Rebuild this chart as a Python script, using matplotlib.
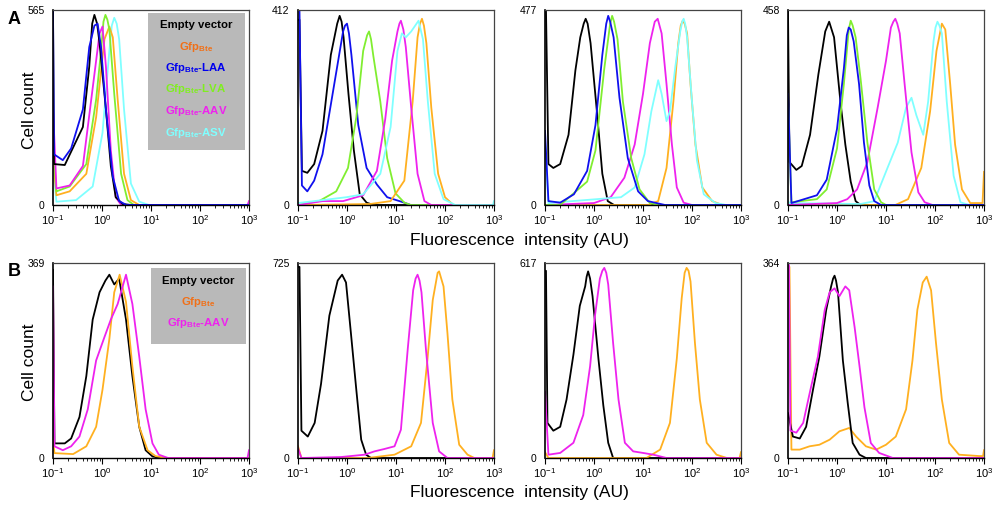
import numpy as np
import matplotlib
matplotlib.use("Agg")
import matplotlib.pyplot as plt

plt.rcParams['font.family'] = ['Liberation Sans', 'DejaVu Sans']
plt.rcParams['mathtext.fontset'] = 'custom'
plt.rcParams['mathtext.rm'] = 'Liberation Sans'
plt.rcParams['mathtext.bf'] = 'Liberation Sans:bold'

# curves: (log10 fluorescence, cell count as fraction of panel max)
# row A, panel 1  (max 565)
a1_black = ([-1, -0.98, -0.76, -0.39, -0.26, -0.2, -0.155, -0.1, -0.05, 0.08, 0.18, 0.28, 0.42, 0.6, 3],
            [1.0, 0.21, 0.205, 0.40, 0.71, 0.93, 0.975, 0.93, 0.83, 0.49, 0.20, 0.04, 0.005, 0, 0])
a1_blue = ([-1, -0.98, -0.8, -0.63, -0.39, -0.26, -0.155, -0.09, -0.02, 0.08, 0.22, 0.35, 0.5, 3],
           [1.0, 0.26, 0.23, 0.29, 0.49, 0.81, 0.92, 0.93, 0.81, 0.49, 0.145, 0.02, 0, 0])
a1_green = ([-1, -0.93, -0.66, -0.32, -0.12, -0.02, 0.03, 0.07, 0.11, 0.15, 0.25, 0.39, 0.52, 0.65, 3],
            [0.30, 0.07, 0.095, 0.21, 0.54, 0.79, 0.94, 0.975, 0.95, 0.90, 0.57, 0.16, 0.025, 0, 0])
a1_orange = ([-1, -0.93, -0.66, -0.32, -0.12, 0.05, 0.15, 0.22, 0.32, 0.45, 0.59, 0.76, 3],
             [0.25, 0.05, 0.07, 0.16, 0.45, 0.85, 0.915, 0.86, 0.54, 0.16, 0.025, 0, 0])
a1_magenta = ([-1, -0.93, -0.66, -0.39, -0.22, -0.05, 0.01, 0.08, 0.18, 0.28, 0.39, 2.97, 3],
              [0.50, 0.085, 0.10, 0.20, 0.54, 0.88, 0.915, 0.71, 0.28, 0.04, 0, 0, 0.02])
a1_cyan = ([-1, -0.93, -0.53, -0.19, 0.01, 0.15, 0.2, 0.25, 0.3, 0.35, 0.45, 0.59, 0.76, 0.96, 3],
           [0.20, 0.017, 0.025, 0.095, 0.37, 0.79, 0.92, 0.96, 0.93, 0.85, 0.49, 0.11, 0.017, 0, 0])

# row A, panel 2  (max 412)
a2_black = ([-1, -0.97, -0.92, -0.81, -0.67, -0.5, -0.33, -0.2, -0.15, -0.11, -0.07, 0.03, 0.14, 0.26, 0.4, 0.54, 3],
            [0.95, 0.95, 0.175, 0.165, 0.21, 0.38, 0.77, 0.93, 0.97, 0.94, 0.86, 0.57, 0.28, 0.055, 0.012, 0, 0])
a2_blue = ([-1, -0.97, -0.92, -0.81, -0.67, -0.5, -0.26, -0.08, -0.04, 0.0, 0.04, 0.09, 0.23, 0.4, 0.61, 0.82, 1.17, 1.3, 3],
           [1.0, 1.0, 0.10, 0.07, 0.125, 0.26, 0.62, 0.89, 0.92, 0.93, 0.88, 0.77, 0.41, 0.19, 0.105, 0.04, 0.012, 0, 0])
a2_green = ([-1, -0.57, -0.22, 0.02, 0.19, 0.33, 0.41, 0.45, 0.49, 0.54, 0.68, 0.82, 0.99, 1.17, 1.3, 3],
            [0, 0.02, 0.07, 0.19, 0.45, 0.79, 0.87, 0.89, 0.85, 0.76, 0.53, 0.24, 0.06, 0.012, 0, 0])
a2_magenta = ([-1, -0.5, -0.08, 0.33, 0.61, 0.78, 0.92, 1.03, 1.07, 1.1, 1.15, 1.2, 1.31, 1.44, 1.58, 1.72, 3],
              [0, 0.02, 0.02, 0.05, 0.175, 0.44, 0.74, 0.89, 0.93, 0.945, 0.90, 0.81, 0.50, 0.16, 0.02, 0, 0])
a2_orange = ([-1, 0.47, 0.89, 1.17, 1.34, 1.44, 1.49, 1.53, 1.57, 1.62, 1.72, 1.86, 2.0, 2.17, 3],
             [0, 0.005, 0.02, 0.125, 0.53, 0.86, 0.93, 0.955, 0.92, 0.83, 0.50, 0.16, 0.04, 0, 0])
a2_cyan = ([-1, -0.01, 0.33, 0.68, 0.89, 1.03, 1.12, 1.2, 1.31, 1.46, 1.55, 1.65, 1.79, 1.97, 2.21, 2.98, 3],
           [0.01, 0.04, 0.055, 0.16, 0.40, 0.79, 0.88, 0.86, 0.89, 0.945, 0.85, 0.53, 0.16, 0.03, 0, 0, 0.02])

# row A, panel 3  (max 477)
a3_black = ([-1, -0.98, -0.93, -0.83, -0.69, -0.52, -0.38, -0.28, -0.21, -0.17, -0.13, -0.07, 0.07, 0.17, 0.28, 0.41, 3],
            [1.0, 1.0, 0.21, 0.19, 0.21, 0.36, 0.69, 0.86, 0.93, 0.955, 0.93, 0.83, 0.45, 0.16, 0.02, 0, 0])
a3_blue = ([-1, -0.93, -0.69, -0.41, -0.14, 0.03, 0.17, 0.25, 0.29, 0.33, 0.4, 0.52, 0.69, 0.9, 1.1, 1.45, 3],
           [0.38, 0.02, 0.012, 0.055, 0.175, 0.41, 0.77, 0.93, 0.97, 0.94, 0.86, 0.55, 0.24, 0.07, 0.02, 0, 0])
a3_green = ([-1, -0.69, -0.14, 0.03, 0.21, 0.33, 0.37, 0.41, 0.48, 0.59, 0.76, 0.93, 1.14, 1.3, 3],
            [0, 0, 0.12, 0.28, 0.70, 0.93, 0.97, 0.94, 0.85, 0.53, 0.24, 0.08, 0.01, 0, 0])
a3_magenta = ([-1, 0.0, 0.34, 0.62, 0.83, 1.0, 1.14, 1.24, 1.3, 1.38, 1.48, 1.59, 1.69, 1.83, 2.0, 3],
              [0, 0.01, 0.04, 0.14, 0.31, 0.57, 0.83, 0.94, 0.955, 0.88, 0.62, 0.31, 0.09, 0.012, 0, 0])
a3_orange = ([-1, 1.1, 1.31, 1.48, 1.62, 1.72, 1.77, 1.81, 1.85, 1.9, 1.97, 2.07, 2.21, 2.41, 2.62, 3],
             [0, 0, 0.02, 0.19, 0.53, 0.83, 0.92, 0.945, 0.93, 0.88, 0.62, 0.31, 0.09, 0.02, 0, 0])
a3_cyan = ([-1, -0.93, 0.55, 0.83, 1.03, 1.17, 1.31, 1.38, 1.48, 1.55, 1.66, 1.76, 1.8, 1.83, 1.86, 1.9, 2.0, 2.1,
            2.24, 2.48, 2.7, 3],
           [0.33, 0.01, 0.04, 0.09, 0.26, 0.48, 0.64, 0.57, 0.43, 0.48, 0.71, 0.89, 0.94, 0.955, 0.93, 0.86, 0.53, 0.23,
            0.055, 0.01, 0, 0])

# row A, panel 4  (max 458)
a4_black = ([-1, -0.97, -0.83, -0.72, -0.55, -0.38, -0.24, -0.16, -0.06, 0.07, 0.17, 0.28, 0.38, 0.48, 3],
            [1.0, 0.22, 0.18, 0.20, 0.36, 0.67, 0.89, 0.94, 0.86, 0.53, 0.31, 0.12, 0.02, 0, 0])
a4_blue = ([-1, -0.93, -0.41, -0.21, 0.0, 0.14, 0.2, 0.24, 0.28, 0.34, 0.45, 0.55, 0.66, 0.76, 0.9, 3],
           [0.57, 0.01, 0.05, 0.13, 0.39, 0.70, 0.87, 0.91, 0.90, 0.84, 0.62, 0.32, 0.10, 0.02, 0, 0])
a4_green = ([-1, -0.93, -0.41, -0.21, 0.0, 0.14, 0.24, 0.28, 0.32, 0.38, 0.48, 0.62, 0.76, 0.9, 1.0, 3],
            [0.53, 0.014, 0.03, 0.08, 0.29, 0.62, 0.90, 0.945, 0.92, 0.86, 0.65, 0.32, 0.08, 0.014, 0, 0])
a4_magenta = ([-1, 0.0, 0.21, 0.41, 0.62, 0.83, 1.0, 1.1, 1.15, 1.19, 1.23, 1.28, 1.38, 1.52, 1.66, 1.79, 1.95, 3],
              [0, 0.01, 0.03, 0.08, 0.22, 0.50, 0.74, 0.91, 0.94, 0.955, 0.93, 0.88, 0.62, 0.27, 0.065, 0.014, 0, 0])
a4_orange = ([-1, 1.19, 1.45, 1.72, 1.9, 2.03, 2.14, 2.21, 2.31, 2.41, 2.55, 2.72, 2.97, 3],
             [0, 0, 0.03, 0.19, 0.48, 0.79, 0.93, 0.90, 0.62, 0.31, 0.08, 0.01, 0.01, 0.17])
a4_cyan = ([-1, -0.97, 0.48, 0.76, 1.03, 1.24, 1.41, 1.52, 1.62, 1.76, 1.86, 1.97, 2.01, 2.05, 2.09, 2.14, 2.24,
            2.38, 2.52, 2.7, 3],
           [0.02, 0.01, 0.005, 0.02, 0.19, 0.32, 0.50, 0.55, 0.46, 0.36, 0.53, 0.84, 0.91, 0.94, 0.92, 0.88, 0.53,
            0.15, 0.014, 0, 0])

# row B, panel 1  (max 369)
b1_black = ([-1, -0.97, -0.76, -0.63, -0.46, -0.32, -0.19, -0.05, 0.07, 0.15, 0.25, 0.35, 0.49, 0.62, 0.76, 0.89, 1.03, 1.2, 3],
            [0.965, 0.075, 0.075, 0.10, 0.21, 0.42, 0.71, 0.85, 0.91, 0.94, 0.89, 0.92, 0.71, 0.42, 0.16, 0.04, 0.008, 0, 0])
b1_orange = ([-1, -0.97, -0.59, -0.32, -0.12, 0.01, 0.15, 0.25, 0.36, 0.49, 0.62, 0.76, 0.93, 1.09, 1.3, 3],
             [0.1, 0.025, 0.02, 0.06, 0.16, 0.35, 0.61, 0.85, 0.94, 0.80, 0.47, 0.16, 0.04, 0.01, 0, 0])
b1_magenta = ([-1, -0.97, -0.8, -0.63, -0.46, -0.29, -0.12, 0.05, 0.18, 0.32, 0.49, 0.62, 0.76, 0.89, 1.03, 1.16, 1.35, 2.97, 3],
              [0.88, 0.06, 0.04, 0.06, 0.11, 0.25, 0.50, 0.62, 0.71, 0.79, 0.94, 0.79, 0.52, 0.25, 0.075, 0.017, 0, 0, 0.04])

# row B, panel 2  (max 725)
b2_black = ([-1, -0.97, -0.93, -0.8, -0.66, -0.53, -0.36, -0.19, -0.1, -0.02, 0.08, 0.19, 0.29, 0.39, 0.49, 3],
            [0.98, 0.98, 0.14, 0.11, 0.18, 0.38, 0.73, 0.91, 0.94, 0.90, 0.64, 0.35, 0.094, 0.017, 0, 0])
b2_magenta = ([-1, -0.93, -0.12, 0.36, 0.56, 0.76, 0.97, 1.1, 1.24, 1.35, 1.4, 1.44, 1.48, 1.52, 1.61, 1.75, 1.88, 2.05, 3],
              [0.05, 0, 0.005, 0.017, 0.034, 0.046, 0.06, 0.145, 0.56, 0.86, 0.92, 0.94, 0.91, 0.85, 0.56, 0.18, 0.034, 0, 0])
b2_orange = ([-1, -0.93, 0.42, 0.97, 1.31, 1.51, 1.64, 1.75, 1.85, 1.88, 1.97, 2.05, 2.15, 2.29, 2.46, 2.6, 2.97, 3],
             [0.06, 0, 0, 0.017, 0.06, 0.18, 0.50, 0.81, 0.95, 0.957, 0.88, 0.64, 0.30, 0.068, 0.017, 0, 0, 0.04])

# row B, panel 3  (max 617)
b3_black = ([-1, -0.98, -0.95, -0.83, -0.69, -0.56, -0.42, -0.29, -0.18, -0.15, -0.12, -0.08, -0.03, 0.09, 0.19, 0.29, 0.39, 3],
            [0.96, 0.96, 0.18, 0.14, 0.16, 0.30, 0.53, 0.78, 0.88, 0.93, 0.957, 0.92, 0.83, 0.51, 0.27, 0.078, 0, 0])
b3_magenta = ([-1, -0.93, -0.69, -0.42, -0.22, -0.08, 0.02, 0.12, 0.17, 0.21, 0.25, 0.29, 0.39, 0.5, 0.63, 0.8, 1.0,
               1.21, 1.48, 3],
              [0.34, 0.017, 0.026, 0.078, 0.22, 0.47, 0.73, 0.92, 0.96, 0.975, 0.95, 0.89, 0.59, 0.30, 0.078, 0.034,
               0.026, 0.017, 0, 0])
b3_orange = ([-1, -0.93, 1.07, 1.35, 1.55, 1.69, 1.79, 1.85, 1.89, 1.93, 1.97, 2.06, 2.16, 2.3, 2.5, 2.71, 2.97, 3],
             [0.03, 0, 0, 0.043, 0.18, 0.51, 0.82, 0.95, 0.975, 0.96, 0.905, 0.59, 0.30, 0.078, 0.017, 0, 0, 0.03])

# row B, panel 4  (max 364)
b4_black = ([-1, -0.9, -0.76, -0.63, -0.49, -0.36, -0.22, -0.12, -0.08, -0.05, -0.02, 0.02, 0.12, 0.22, 0.32, 0.46, 0.59, 3],
            [0.23, 0.11, 0.10, 0.16, 0.35, 0.52, 0.76, 0.88, 0.92, 0.935, 0.91, 0.85, 0.50, 0.28, 0.077, 0.017, 0, 0])
b4_magenta = ([-1, -0.98, -0.95, -0.83, -0.69, -0.56, -0.39, -0.25, -0.15, -0.05, 0.05, 0.17, 0.25, 0.36, 0.46, 0.56,
               0.69, 0.86, 1.14, 3],
              [0.99, 0.99, 0.14, 0.13, 0.18, 0.33, 0.52, 0.76, 0.85, 0.87, 0.83, 0.88, 0.86, 0.67, 0.47, 0.26, 0.077,
               0.026, 0, 0])
b4_orange = ([-1, -0.97, -0.93, -0.76, -0.56, -0.36, -0.15, 0.05, 0.25, 0.39, 0.59, 0.8, 1.0, 1.2, 1.41, 1.54, 1.64,
              1.75, 1.83, 1.92, 2.02, 2.14, 2.29, 2.49, 2.9, 2.98, 3],
             [0.98, 0.98, 0.043, 0.043, 0.06, 0.068, 0.094, 0.137, 0.154, 0.11, 0.06, 0.043, 0.068, 0.11, 0.25, 0.50,
              0.76, 0.90, 0.93, 0.86, 0.59, 0.30, 0.077, 0.017, 0.01, 0.01, 0.04])

a_max = [565, 412, 477, 458]
b_max = [369, 725, 617, 364]

c_black = '#000000'
c_orange = '#ffb020'
c_blue = '#1010ee'
c_green = '#80ee30'
c_magenta = '#ee22ee'
c_cyan = '#80ffff'

a_panels = [
    [(a1_cyan, c_cyan), (a1_orange, c_orange), (a1_green, c_green), (a1_magenta, c_magenta), (a1_black, c_black), (a1_blue, c_blue)],
    [(a2_black, c_black), (a2_blue, c_blue), (a2_green, c_green), (a2_orange, c_orange), (a2_magenta, c_magenta), (a2_cyan, c_cyan)],
    [(a3_black, c_black), (a3_orange, c_orange), (a3_magenta, c_magenta), (a3_cyan, c_cyan), (a3_green, c_green), (a3_blue, c_blue)],
    [(a4_black, c_black), (a4_orange, c_orange), (a4_cyan, c_cyan), (a4_magenta, c_magenta), (a4_green, c_green), (a4_blue, c_blue)],
]
b_panels = [
    [(b1_black, c_black), (b1_orange, c_orange), (b1_magenta, c_magenta)],
    [(b2_black, c_black), (b2_orange, c_orange), (b2_magenta, c_magenta)],
    [(b3_black, c_black), (b3_orange, c_orange), (b3_magenta, c_magenta)],
    [(b4_orange, c_orange), (b4_black, c_black), (b4_magenta, c_magenta)],
]

a_legend = ['Empty vector', r'Gfp$_{\mathbf{Bte}}$', r'Gfp$_{\mathbf{Bte}}$-LAA', r'Gfp$_{\mathbf{Bte}}$-LVA',
            r'Gfp$_{\mathbf{Bte}}$-AAV', r'Gfp$_{\mathbf{Bte}}$-ASV']
a_legend_col = ['#000000', '#f07018', '#0000ee', '#80ee20', '#ee22ee', '#80ffff']
b_legend = ['Empty vector', r'Gfp$_{\mathbf{Bte}}$', r'Gfp$_{\mathbf{Bte}}$-AAV']
b_legend_col = ['#000000', '#f07018', '#ee22ee']

W, H = 1000, 505
fig = plt.figure(figsize=(W / 100, H / 100), dpi=100)
lefts = [53, 298, 545, 788]
pw, ph = 196, 195


def draw_panel(ax, curves, ymax):
    for (lx, fy), col in curves:
        ax.plot(10 ** np.array(lx), np.array(fy) * ymax, color=col, lw=1.3)
    ax.set_xscale('log')
    ax.set_xlim(0.1, 1000)
    ax.set_ylim(0, ymax * 1.0)
    ax.set_xticks([0.1, 1, 10, 100, 1000])
    ax.set_yticks([0, ymax])
    ax.set_yticklabels(['0', str(ymax)])
    ax.tick_params(axis='y', length=0, pad=6, labelsize=7.5)
    ax.tick_params(axis='x', which='major', direction='out', length=4, width=0.8, pad=2, labelsize=8)
    ax.tick_params(axis='x', which='minor', direction='out', length=2.5, width=0.6)
    for s in ['top', 'right']:
        ax.spines[s].set_color('#444444')
        ax.spines[s].set_linewidth(0.9)
    ax.spines['left'].set_linewidth(1.2)
    ax.spines['bottom'].set_linewidth(1.0)


for i in range(4):
    ax = fig.add_axes([lefts[i] / W, 1 - 205 / H, pw / W, ph / H])
    draw_panel(ax, a_panels[i], a_max[i])

for i in range(4):
    ax = fig.add_axes([lefts[i] / W, 1 - 458 / H, pw / W, ph / H])
    draw_panel(ax, b_panels[i], b_max[i])

# legend boxes
rect = plt.Rectangle((148 / W, 1 - 150 / H), 97 / W, 137 / H, transform=fig.transFigure,
                     facecolor='#b9b9b9', edgecolor='none', zorder=5)
fig.add_artist(rect)
for i, (t, c) in enumerate(zip(a_legend, a_legend_col)):
    fig.text(196 / W, 1 - (25 + i * 21.5) / H, t, color=c, fontsize=8.2, fontweight='bold',
             ha='center', va='center', zorder=6)

rect = plt.Rectangle((151 / W, 1 - 344 / H), 95 / W, 76 / H, transform=fig.transFigure,
                     facecolor='#b9b9b9', edgecolor='none', zorder=5)
fig.add_artist(rect)
for i, (t, c) in enumerate(zip(b_legend, b_legend_col)):
    fig.text(198 / W, 1 - (281 + i * 21) / H, t, color=c, fontsize=8.2, fontweight='bold',
             ha='center', va='center', zorder=6)

fig.text(8 / W, 1 - 20 / H, 'A', fontsize=13, fontweight='bold', ha='left', va='center')
fig.text(8 / W, 1 - 272 / H, 'B', fontsize=13, fontweight='bold', ha='left', va='center')
fig.text(30 / W, 1 - 110 / H, 'Cell count', fontsize=12.5, rotation=90, ha='center', va='center')
fig.text(30 / W, 1 - 362 / H, 'Cell count', fontsize=12.5, rotation=90, ha='center', va='center')
fig.text(519 / W, 1 - 240 / H, 'Fluorescence  intensity (AU)', fontsize=12.5, ha='center', va='center')
fig.text(519 / W, 1 - 492 / H, 'Fluorescence  intensity (AU)', fontsize=12.5, ha='center', va='center')

fig.savefig('out.png', dpi=100)
